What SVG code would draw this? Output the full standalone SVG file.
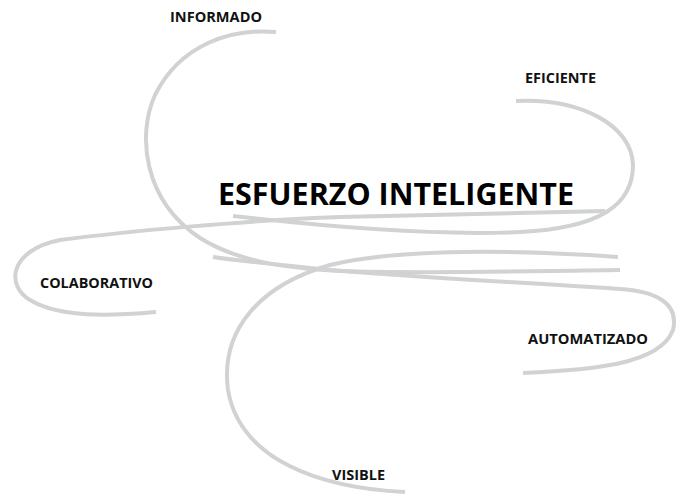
<svg xmlns="http://www.w3.org/2000/svg" width="676" height="496" viewBox="0 0 676 496">
<style>
.c{fill:none;stroke:#d1d2d4;stroke-width:4;stroke-linecap:butt}
.l{font-family:"Open Sans","Noto Sans","Liberation Sans",sans-serif;font-weight:700;font-size:13.5px;fill:#111}
.t{font-family:"Open Sans","Noto Sans","Liberation Sans",sans-serif;font-weight:700;font-size:31px;fill:#000}
</style>
<rect width="676" height="496" fill="#fff"/>
<g id="connectors">
<path id="c-informado" class="c" d="M276,32 C230,28 180,45 155,95 C137,135 143,200 200,238 C235,260 280,268 340,271 C430,274 530,271 620,270"/>
<path id="c-eficiente" class="c" d="M516,101 C580,98 632,125 633,165 C633,205 600,228 520,232 C430,236 320,226 233,216"/>
<path id="c-colaborativo" class="c" d="M156,312 C110,316 60,318 30,300 C5,285 10,250 60,240 C120,232 250,220 340,217 C440,214 530,212 605,211"/>
<path id="c-automatizado" class="c" d="M523,373 C590,370 660,365 673,330 C680,300 650,291 620,289 C520,282 420,278 320,269 C280,265 240,261 213,257"/>
<path id="c-visible" class="c" d="M405,492 C320,488 240,460 228,390 C220,330 260,285 330,265 C400,248 520,250 618,257"/>
</g>
<g id="title"><text class="t" x="218" y="205" textLength="356" lengthAdjust="spacingAndGlyphs">ESFUERZO INTELIGENTE</text></g>
<g id="n-informado"><text class="l" x="170" y="22" textLength="92" lengthAdjust="spacingAndGlyphs">INFORMADO</text></g>
<g id="n-eficiente"><text class="l" x="525" y="83" textLength="71" lengthAdjust="spacingAndGlyphs">EFICIENTE</text></g>
<g id="n-colaborativo"><text class="l" x="40" y="288" textLength="113" lengthAdjust="spacingAndGlyphs">COLABORATIVO</text></g>
<g id="n-automatizado"><text class="l" x="528" y="344" textLength="120" lengthAdjust="spacingAndGlyphs">AUTOMATIZADO</text></g>
<g id="n-visible"><text class="l" x="332" y="480" textLength="53" lengthAdjust="spacingAndGlyphs">VISIBLE</text></g>
</svg>
